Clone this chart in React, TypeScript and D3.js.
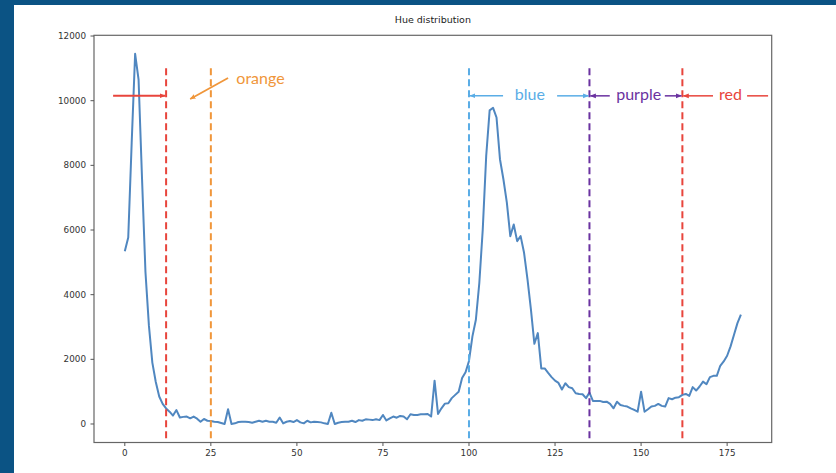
import React from "react";
import * as d3 from "d3";

const hues: number[] = d3.range(0, 180);
const counts: number[] = [
  5340, 5770, 8700, 11450, 10650, 7600, 4700, 3050, 1900, 1300,
  850, 620, 480, 380, 260, 430, 200, 220, 230, 175,
  230, 165, 70, 155, 100, 95, 70, 60, 30, 0,
  455, 0, 20, 60, 70, 70, 60, 40, 70, 100,
  70, 100, 70, 70, 40, 200, 20, 70, 90, 60,
  120, 50, 20, 100, 50, 70, 60, 50, 20, 0,
  350, 0, 40, 60, 70, 70, 100, 60, 120, 100,
  145, 135, 120, 145, 120, 280, 110, 175, 230, 195,
  250, 230, 145, 300, 280, 280, 300, 300, 310, 230,
  1340, 310, 485, 630, 640, 800, 900, 1000, 1420, 1600,
  1950, 2710, 3225, 4360, 6020, 8290, 9700, 9780, 9480, 8190,
  7570, 6845, 5810, 6170, 5655, 5810, 5295, 4470, 3540, 2480,
  2810, 1720, 1720, 1580, 1450, 1340, 1270, 1065, 1260, 1140,
  1105, 950, 930, 920, 800, 970, 715, 715, 715, 680,
  690, 620, 485, 690, 590, 560, 540, 485, 435, 380,
  1000, 380, 455, 540, 560, 620, 560, 540, 800, 765,
  815, 830, 900, 930, 870, 1140, 1035, 1160, 1310, 1230,
  1450, 1490, 1490, 1800, 1935, 2110, 2400, 2760, 3120, 3380,
];

const xTicks: number[] = [0, 25, 50, 75, 100, 125, 150, 175];
const yTicks: number[] = [0, 2000, 4000, 6000, 8000, 10000, 12000];

// boundaries drawn as dashed lines
const boundaryHues: number[] = [12, 25, 100, 135, 162];
const boundaryColors: string[] = ["#e8453c", "#f0963a", "#5aade6", "#6a32a0", "#e8453c"];

const lineTopValue = 11000;
const arrowValue = 10150;

export default function App() {
  const W = 836;
  const H = 473;
  const left = 94, right = 771.7, top = 35.3, bottom = 442.5;

  const xPad = (d3.max(hues)! - d3.min(hues)!) * 0.05;
  const x = d3.scaleLinear().domain([d3.min(hues)! - xPad, d3.max(hues)! + xPad]).range([left, right]);
  const [ymin, ymax] = d3.extent(counts) as [number, number];
  const yPad = (ymax - ymin) * 0.05;
  const y = d3.scaleLinear().domain([ymin - yPad, ymax + yPad]).range([bottom, top]);

  const line = d3.line<number>().x((_, i) => x(hues[i])).y((d) => y(d));

  const ay = y(arrowValue);
  const annFont = "Lato, 'Open Sans', sans-serif";

  return (
    <div style={{ position: "fixed", left: 0, top: 0 }}>
      <svg width={W} height={H} style={{ display: "block" }}>
        <defs>
          {[
            ["ar-red", "#e8453c"],
            ["ar-orange", "#f0963a"],
            ["ar-blue", "#5aade6"],
            ["ar-purple", "#6a32a0"],
          ].map(([id, c]) => (
            <marker key={id} id={id} viewBox="0 0 10 10" refX="9" refY="5" markerWidth="6" markerHeight="6" orient="auto-start-reverse" markerUnits="userSpaceOnUse">
              <path d="M0,1 L10,5 L0,9 z" fill={c} />
            </marker>
          ))}
        </defs>
        <rect x={0} y={0} width={W} height={H} fill="#0b5384" />
        <rect x={14} y={5} width={W - 14} height={H - 5} fill="#ffffff" />

        <text x={(left + right) / 2} y={23} textAnchor="middle" fontFamily="DejaVu Sans" fontSize={9.5} fill="#222">
          Hue distribution
        </text>

        {/* data line */}
        <path d={line(counts) ?? ""} fill="none" stroke="#5087c0" strokeWidth={2} strokeLinejoin="round" />

        {/* boundary dashed lines */}
        {boundaryHues.map((h, i) => (
          <line key={h} x1={x(h)} x2={x(h)} y1={y(lineTopValue)} y2={bottom} stroke={boundaryColors[i]} strokeWidth={2} strokeDasharray="7,4" />
        ))}

        {/* annotations */}
        <line x1={x(-3.4)} x2={x(12) - 1} y1={ay} y2={ay} stroke="#e8453c" strokeWidth={2} markerEnd="url(#ar-red)" />
        <line x1={x(30)} x2={x(19)} y1={y(10700)} y2={y(10050)} stroke="#f0963a" strokeWidth={1.8} markerEnd="url(#ar-orange)" />
        <text x={x(32.4)} y={y(10680)} dy="0.35em" fontFamily={annFont} fontSize={16} fill="#f0963a">orange</text>

        <line x1={x(109.9)} x2={x(100) + 1} y1={ay} y2={ay} stroke="#5aade6" strokeWidth={1.5} markerEnd="url(#ar-blue)" />
        <text x={x(117.7)} y={ay - 1.5} dy="0.35em" textAnchor="middle" fontFamily={annFont} fontSize={16} fill="#5aade6">blue</text>
        <line x1={x(125.6)} x2={x(135) - 1} y1={ay} y2={ay} stroke="#5aade6" strokeWidth={1.5} markerEnd="url(#ar-blue)" />

        <line x1={x(140.9)} x2={x(135) + 1} y1={ay} y2={ay} stroke="#6a32a0" strokeWidth={1.5} markerEnd="url(#ar-purple)" />
        <text x={x(149.3)} y={ay - 1.5} dy="0.35em" textAnchor="middle" fontFamily={annFont} fontSize={16} fill="#6a32a0">purple</text>
        <line x1={x(156.9)} x2={x(162) - 1} y1={ay} y2={ay} stroke="#6a32a0" strokeWidth={1.5} markerEnd="url(#ar-purple)" />

        <line x1={x(170.9)} x2={x(162) + 1} y1={ay} y2={ay} stroke="#e8453c" strokeWidth={1.5} markerEnd="url(#ar-red)" />
        <text x={x(176)} y={ay - 1.5} dy="0.35em" textAnchor="middle" fontFamily={annFont} fontSize={16} fill="#e8453c">red</text>
        <line x1={x(180.8)} x2={x(186.9)} y1={ay} y2={ay} stroke="#e8453c" strokeWidth={1.5} />

        {/* axes frame */}
        <rect x={left} y={top} width={right - left} height={bottom - top} fill="none" stroke="#666" strokeWidth={1.2} />

        {yTicks.map((t) => (
          <g key={t}>
            <line x1={left - 3.5} x2={left} y1={y(t)} y2={y(t)} stroke="#555" strokeWidth={1} />
            <text x={left - 8} y={y(t)} dy="0.35em" textAnchor="end" fontFamily="DejaVu Sans" fontSize={8.8} fill="#333">{t}</text>
          </g>
        ))}
        {xTicks.map((t) => (
          <g key={t}>
            <line x1={x(t)} x2={x(t)} y1={bottom} y2={bottom + 3.5} stroke="#555" strokeWidth={1} />
            <text x={x(t)} y={453} dy="0.35em" textAnchor="middle" fontFamily="DejaVu Sans" fontSize={8.8} fill="#333">{t}</text>
          </g>
        ))}
      </svg>
    </div>
  );
}
